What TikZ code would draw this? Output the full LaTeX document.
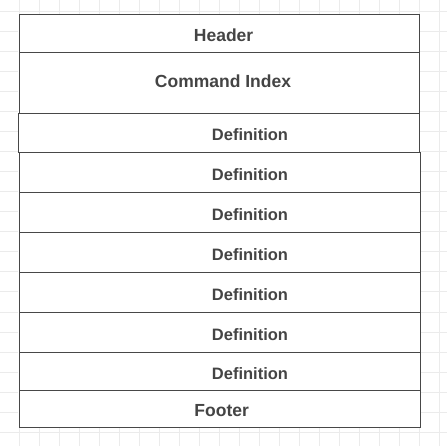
\documentclass[tikz,border=0pt]{standalone}
\usepackage{fontspec}
\setmainfont{Liberation Sans}
\definecolor{gridgray}{HTML}{EBEBEB}
\definecolor{linegray}{HTML}{474747}
\definecolor{txtgray}{HTML}{444444}
\tikzset{
  box/.style={draw=linegray, line width=1.2pt, rectangle, inner sep=0pt},
  lbl/.style={font=\bfseries\fontsize{17.5}{20}\selectfont, text=txtgray, inner sep=0pt, anchor=center},
  deflbl/.style={lbl, font=\bfseries\fontsize{16.5}{19}\selectfont}
}
\begin{document}
\begin{tikzpicture}[x=1pt,y=-1pt]
  \useasboundingbox[fill=white] (0,0) rectangle (447,446);
  % background grid, 20 units apart
  \foreach \gx in {0,...,21} \draw[gridgray, line width=1pt] (19.7+20*\gx,0) -- (19.7+20*\gx,446);
  \foreach \gy in {0,...,21} \draw[gridgray, line width=1pt] (0,12+20*\gy) -- (447,12+20*\gy);

  % white ground under the stack of sections
  \fill[white] (18.3,14.3) rectangle (420.3,427.3);

  % stacked sections
  \node[box, minimum width=400pt, minimum height=38pt] (hdr) at (219.5,33.3) {};
  \node[box, minimum width=400pt, minimum height=61pt] (idx) at (219.5,82.8) {};
  \node[box, minimum width=401.4pt, minimum height=39pt] (d1) at (219,132.8) {};
  \node[box, minimum width=400.6pt, minimum height=40pt] (d2) at (220,172.3) {};
  \node[box, minimum width=400.6pt, minimum height=40pt] (d3) at (220,212.3) {};
  \node[box, minimum width=400.6pt, minimum height=40pt] (d4) at (220,252.3) {};
  \node[box, minimum width=400.6pt, minimum height=40pt] (d5) at (220,292.3) {};
  \node[box, minimum width=400.6pt, minimum height=40pt] (d6) at (220,332.3) {};
  \node[box, minimum width=400.6pt, minimum height=38pt] (d7) at (220,371.3) {};
  \node[box, minimum width=400.6pt, minimum height=37pt] (ftr) at (220,408.8) {};

  % section titles
  \node[lbl] (thdr) at (223.6,35.3) {Header};
  \node[lbl] (tidx) at (223,81.7) {Command Index};
  \node[deflbl] (td1) at (250,134.8) {Definition};
  \node[deflbl] (td2) at (250,174.3) {Definition};
  \node[deflbl] (td3) at (250,214.3) {Definition};
  \node[deflbl] (td4) at (250,254.3) {Definition};
  \node[deflbl] (td5) at (250,294.3) {Definition};
  \node[deflbl] (td6) at (250,334.3) {Definition};
  \node[deflbl] (td7) at (250,373.3) {Definition};
  \node[lbl] (tftr) at (221.7,410.8) {Footer};
\end{tikzpicture}
\end{document}
